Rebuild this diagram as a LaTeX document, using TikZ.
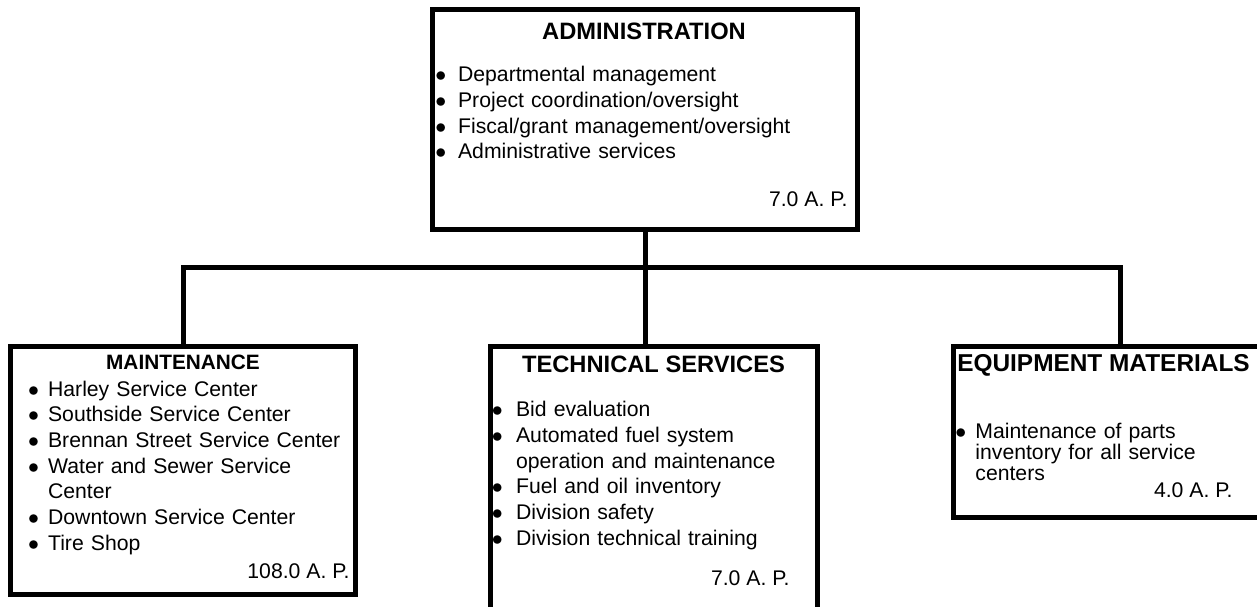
\documentclass[tikz,border=0pt]{standalone}
\usepackage{fontspec}
\setmainfont{Liberation Sans}
\newlength{\bulw}
\newcommand{\bl}{\makebox[\bulw][l]{$\bullet$}}
\newcommand{\cont}{\hspace*{\bulw}}
\tikzset{%
	box/.style={draw, rectangle, line width=2.5pt, inner sep=0pt},
	head/.style={font=\fontsize{11.85}{14}\selectfont\bfseries, inner sep=0pt, anchor=base},
	items/.style={font=\fontsize{10.6}{12.85}\selectfont, text width=200pt, align=left,%
		inner sep=0pt, anchor=base west, execute at begin node={\setlength{\bulw}{#1}}},
	items/.default=10pt,
	staff/.style={font=\fontsize{10.6}{12.85}\selectfont, inner sep=0pt, anchor=base east},
	connector/.style={line width=2.5pt}
}
\begin{document}
\begin{tikzpicture}[x=0.5pt, y=-0.5pt]
		\useasboundingbox (0,0) rectangle (1257,606);
		\clip (0,0) rectangle (1257,606);
		% boxes
		\node[box, minimum width=212.5pt, minimum height=110pt] (adm) at (645,119.5) {};
		\node[box, minimum width=172.5pt, minimum height=124pt] (mnt) at (183,470.5) {};
		\node[box, minimum width=163.5pt, minimum height=146.75pt] (tech) at (654,493.25) {};
		\node[box, minimum width=167pt, minimum height=85.5pt] (eqp) at (1120,432) {};
		\coordinate (bar) at (645,267.5);

		% connectors
		\draw [connector] (adm.south) -- (bar);
		\draw [connector] (mnt.north) |- (bar) -| (eqp.north);
		\draw [connector] (bar) -- (bar |- tech.north);

		% administration
		\node[head] (adm-t) at (644,39) {ADMINISTRATION};
		\node[items=11.35pt] (adm-l) at (435,81.7) {\bl Departmental management\\
			\bl Project coordination/oversight\\
			\bl Fiscal/grant management/oversight\\
			\bl Administrative services};
		\node[staff] (adm-s) at (848,206.7) {7.0 A. P.};

		% maintenance
		\node[head, font=\fontsize{10.4}{12}\selectfont\bfseries] (mnt-t) at (183,369.3) {MAINTENANCE};
		\node[items=10pt] (mnt-l) at (27.7,396) {\bl Harley Service Center\\
			\bl Southside Service Center\\
			\bl Brennan Street Service Center\\
			\bl Water and Sewer Service\\
			\cont Center\\
			\bl Downtown Service Center\\
			\bl Tire Shop};
		\node[staff] (mnt-s) at (350,578.3) {108.0 A. P.};

		% technical services
		\node[head] (tech-t) at (653.5,372.7) {TECHNICAL SERVICES};
		\node[items=12.1pt] (tech-l) at (491.5,416.7) {\bl Bid evaluation\\
			\bl Automated fuel system\\
			\cont operation and maintenance\\
			\bl Fuel and oil inventory\\
			\bl Division safety\\
			\bl Division technical training};
		\node[staff] (tech-s) at (790,585) {7.0 A. P.};

		% equipment materials
		\node[head, font=\fontsize{12.2}{14}\selectfont\bfseries] (eqp-t) at (1103.5,371.7) {EQUIPMENT MATERIALS};
		\node[items=10pt, font=\fontsize{10.6}{10.5}\selectfont] (eqp-l) at (955,438) {\bl Maintenance of parts\\
			\cont inventory for all service\\
			\cont centers};
		\node[staff] (eqp-s) at (1233,497) {4.0 A. P.};
	\end{tikzpicture}
\end{document}
